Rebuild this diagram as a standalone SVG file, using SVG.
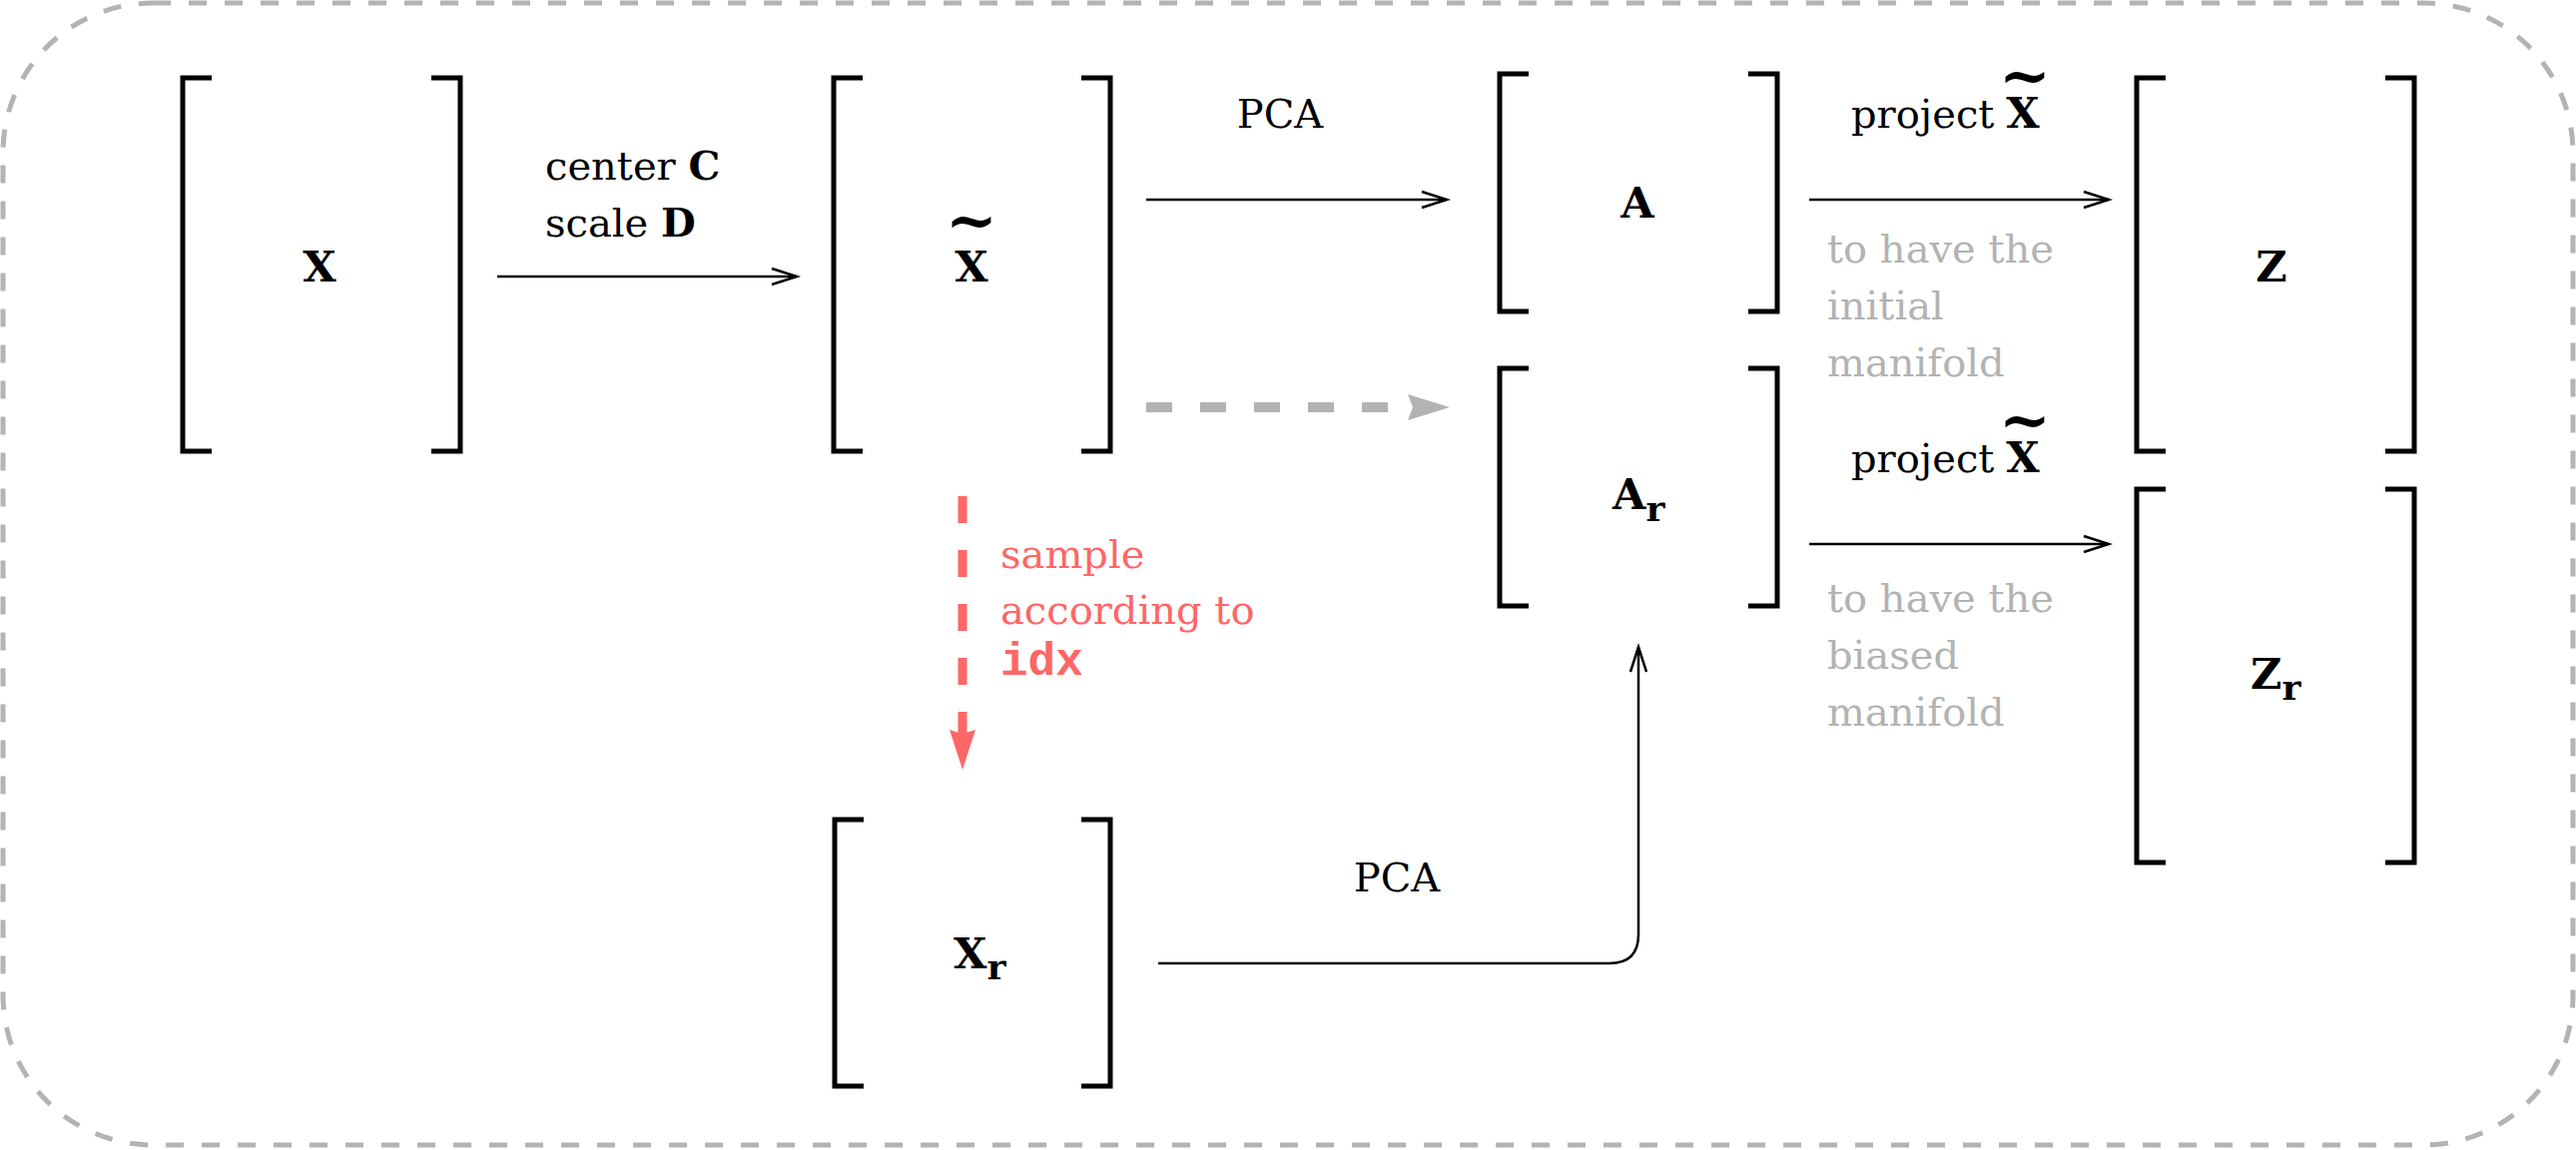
<svg xmlns="http://www.w3.org/2000/svg" width="2580" height="1152" viewBox="0 0 2580 1152">
<style>
.br{fill:none;stroke:#000;stroke-width:5;stroke-linejoin:miter;stroke-linecap:butt}
.lbl{font-family:"DejaVu Serif",serif;font-weight:bold;font-size:43px;fill:#000}
.sub{font-size:36px}
.tl{font-size:62px}
.txt{font-family:"DejaVu Serif",serif;font-size:40px;fill:#000}
.gray{fill:#b3b3b3}
.red{fill:#ff6666}
.mono{font-family:"Liberation Mono",monospace;font-weight:bold;font-size:46px}
.ln{fill:none;stroke:#000;stroke-width:2.5}
</style>
<defs>
<marker id="chev" markerUnits="userSpaceOnUse" markerWidth="30" markerHeight="20" refX="25" refY="8" orient="auto" overflow="visible">
<path d="M0,0 L25,8 L0,16" fill="none" stroke="#000" stroke-width="2.5"/>
</marker>
<marker id="headGray" markerUnits="userSpaceOnUse" markerWidth="44" markerHeight="28" refX="5" refY="13" orient="auto" overflow="visible">
<path d="M0,0 L42,13 L0,26 L5,13 z" fill="#b3b3b3"/>
</marker>
<marker id="headRed" markerUnits="userSpaceOnUse" markerWidth="42" markerHeight="28" refX="4" refY="13" orient="auto" overflow="visible">
<path d="M0,0 L40,13 L0,26 L4,13 z" fill="#ff6666"/>
</marker>
</defs>
<rect x="0" y="0" width="2580" height="1152" fill="#fff"/>
<rect id="frame" x="3" y="3" width="2574" height="1144" rx="150" ry="150" fill="none" stroke="#b3b3b3" stroke-width="5" stroke-dasharray="18 18"/>

<g id="node-X">
<path class="br" d="M212,78 H183 V452 H212"/>
<path class="br" d="M432,78 H461 V452 H432"/>
<text class="lbl" x="320" y="282" text-anchor="middle">X</text>
</g>

<g id="node-Xtilde">
<path class="br" d="M864,78 H835 V452 H864"/>
<path class="br" d="M1083,78 H1112 V452 H1083"/>
<text class="lbl" text-anchor="middle"><tspan x="973" y="282">X</tspan><tspan class="tl" x="973" y="242">~</tspan></text>
</g>

<g id="node-A">
<path class="br" d="M1531,74 H1502 V312 H1531"/>
<path class="br" d="M1751,74 H1780 V312 H1751"/>
<text class="lbl" x="1640" y="218" text-anchor="middle">A</text>
</g>

<g id="node-Ar">
<path class="br" d="M1531,369 H1502 V607 H1531"/>
<path class="br" d="M1751,369 H1780 V607 H1751"/>
<text class="lbl" x="1615" y="510">A<tspan class="sub" dy="12">r</tspan></text>
</g>

<g id="node-Z">
<path class="br" d="M2169,78 H2140 V452 H2169"/>
<path class="br" d="M2389,78 H2418 V452 H2389"/>
<text class="lbl" x="2275" y="282" text-anchor="middle">Z</text>
</g>

<g id="node-Zr">
<path class="br" d="M2169,490 H2140 V864 H2169"/>
<path class="br" d="M2389,490 H2418 V864 H2389"/>
<text class="lbl" x="2254" y="690">Z<tspan class="sub" dy="11">r</tspan></text>
</g>

<g id="node-Xr">
<path class="br" d="M865,821 H836 V1088 H865"/>
<path class="br" d="M1083,821 H1112 V1088 H1083"/>
<text class="lbl" x="955" y="970">X<tspan class="sub" dy="11">r</tspan></text>
</g>

<g id="connectors">
<line class="ln" x1="498" y1="277" x2="798" y2="277" marker-end="url(#chev)"/>
<line class="ln" x1="1148" y1="200" x2="1449" y2="200" marker-end="url(#chev)"/>
<line x1="1148" y1="408" x2="1415" y2="408" stroke="#b3b3b3" stroke-width="10" stroke-dasharray="26 28" marker-end="url(#headGray)"/>
<line class="ln" x1="1812" y1="200" x2="2112" y2="200" marker-end="url(#chev)"/>
<line class="ln" x1="1812" y1="545" x2="2112" y2="545" marker-end="url(#chev)"/>
<line x1="964" y1="497" x2="964" y2="735" stroke="#ff6666" stroke-width="9" stroke-dasharray="27 27" marker-end="url(#headRed)"/>
<path class="ln" d="M1160,965 H1612 Q1641,965 1641,936 V648" marker-end="url(#chev)"/>
</g>

<g id="labels">
<text class="txt" x="546" y="180">center <tspan font-weight="bold">C</tspan></text>
<text class="txt" x="546" y="237">scale <tspan font-weight="bold">D</tspan></text>
<text class="txt" x="1282" y="128" text-anchor="middle">PCA</text>
<text class="txt" x="1399" y="893" text-anchor="middle">PCA</text>
<text class="txt"><tspan x="1854" y="128">project</tspan><tspan class="lbl" x="2026" y="128" text-anchor="middle">X</tspan><tspan class="lbl tl" x="2028" y="97" text-anchor="middle">~</tspan></text>
<text class="txt"><tspan x="1854" y="473">project</tspan><tspan class="lbl" x="2026" y="473" text-anchor="middle">X</tspan><tspan class="lbl tl" x="2028" y="442" text-anchor="middle">~</tspan></text>
<text class="txt gray" x="1830" y="263">to have the</text>
<text class="txt gray" x="1830" y="320">initial</text>
<text class="txt gray" x="1830" y="377">manifold</text>
<text class="txt gray" x="1830" y="613">to have the</text>
<text class="txt gray" x="1830" y="670">biased</text>
<text class="txt gray" x="1830" y="727">manifold</text>
<text class="txt red" x="1002" y="569">sample</text>
<text class="txt red" x="1002" y="625">according to</text>
<text class="mono red" x="1002" y="676">idx</text>
</g>
</svg>
